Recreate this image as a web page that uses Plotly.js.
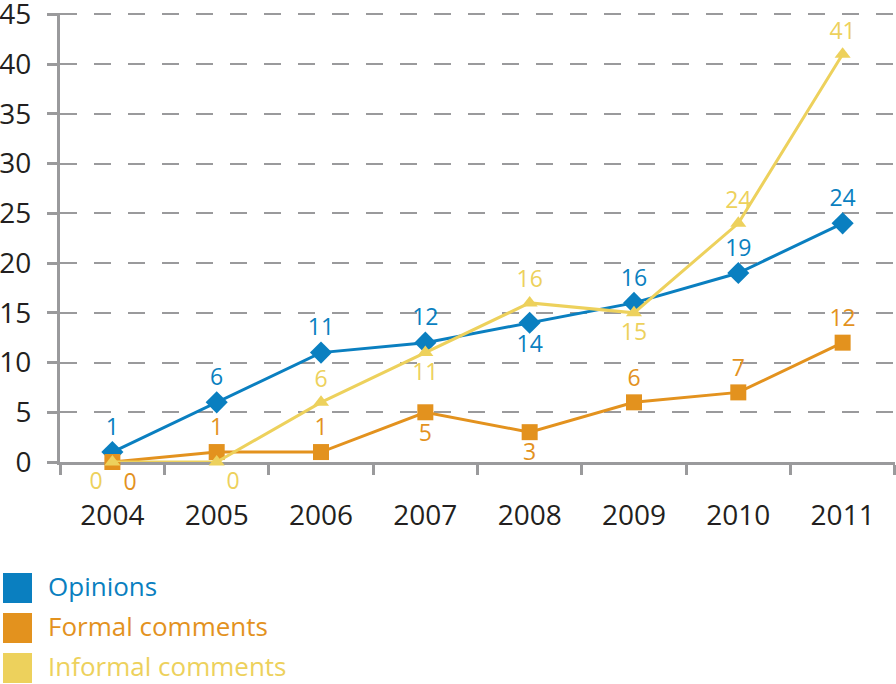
<!DOCTYPE html>
<html>
<head>
<meta charset="utf-8">
<script src="https://cdn.plot.ly/plotly-3.0.1.min.js"></script>
<style>html,body{margin:0;padding:0;background:#fff;}#chart{width:896px;height:684px;}</style>
</head>
<body>
<div id="chart"></div>
<script>
const years = ['2004','2005','2006','2007','2008','2009','2010','2011'];
const opinions = [1, 6, 11, 12, 14, 16, 19, 24];
const formalComments = [0, 1, 1, 5, 3, 6, 7, 12];
const informalComments = [0, 0, 6, 11, 16, 15, 24, 41];
const seriesNames = ['Opinions', 'Formal comments', 'Informal comments'];
const yTicks = [0, 5, 10, 15, 20, 25, 30, 35, 40, 45];

const opinionsPos = ['top center','top center','top center','top center','bottom center','top center','top center','top center'];
const formalPos = ['bottom right','top center','top center','bottom center','bottom center','top center','top center','top center'];
const informalPos = ['bottom left','bottom right','top center','bottom center','top center','bottom center','top center','top center'];

const colors = ['#0A7FC0', '#E3921E', '#EDD15C'];
const FONT = '"Open Sans", "Noto Sans", sans-serif';

function trace(vals, name, color, symbol, size, pos) {
  return {
    x: years, y: vals, name: name, type: 'scatter', mode: 'lines+markers+text',
    text: vals.map(String), textposition: pos,
    textfont: {family: FONT, size: 23, color: color},
    line: {color: color, width: 3},
    marker: {color: color, symbol: symbol, size: size},
    cliponaxis: false, showlegend: false, hoverinfo: 'x+y'
  };
}

const data = [
  trace(opinions, seriesNames[0], colors[0], 'diamond', 17, opinionsPos),
  trace(formalComments, seriesNames[1], colors[1], 'square', 16, formalPos),
  trace(informalComments, seriesNames[2], colors[2], 'triangle-up', 14, informalPos)
];

const shapes = [];
const annotations = [];
seriesNames.forEach((n, i) => {
  const top = -(111 + 40 * i);
  shapes.push({
    type: 'rect', xref: 'paper', yref: 'paper',
    xsizemode: 'pixel', ysizemode: 'pixel', xanchor: 0, yanchor: 0,
    x0: -57, x1: -28, y0: top, y1: top - 30,
    fillcolor: colors[i], line: {width: 0}
  });
  annotations.push({
    xref: 'paper', yref: 'paper', x: 0, y: 0, xanchor: 'left', yanchor: 'middle',
    xshift: -14, yshift: top - 13, showarrow: false, text: n,
    font: {family: FONT, size: 26, color: colors[i]}
  });
});

const layout = {
  width: 896, height: 684,
  margin: {l: 60, r: 1, t: 13, b: 222},
  paper_bgcolor: '#fff', plot_bgcolor: '#fff',
  font: {family: FONT, color: '#231F20'},
  showlegend: false,
  xaxis: {
    type: 'category', showgrid: false, zeroline: false,
    showline: true, linecolor: '#9A9A9C', linewidth: 3,
    ticks: 'outside', tickson: 'boundaries', ticklen: 10, tickwidth: 3, tickcolor: '#9A9A9C',
    tickfont: {family: FONT, size: 28, color: '#231F20'},
    ticklabelstandoff: 26, layer: 'below traces'
  },
  yaxis: {
    range: [0, 45.15], tickvals: yTicks, ticktext: yTicks.map(String),
    showgrid: true, gridcolor: '#9A9A9C', gridwidth: 2, griddash: '17px,17px',
    zeroline: false, showline: true, linecolor: '#9A9A9C', linewidth: 3,
    ticks: 'outside', ticklen: 10, tickwidth: 3, tickcolor: '#9A9A9C',
    tickfont: {family: FONT, size: 28, color: '#231F20'},
    ticklabelstandoff: 10, ticklabeloverflow: 'allow', layer: 'below traces'
  },
  shapes: shapes,
  annotations: annotations
};

Plotly.newPlot('chart', data, layout, {staticPlot: true, displayModeBar: false});
</script>
</body>
</html>
